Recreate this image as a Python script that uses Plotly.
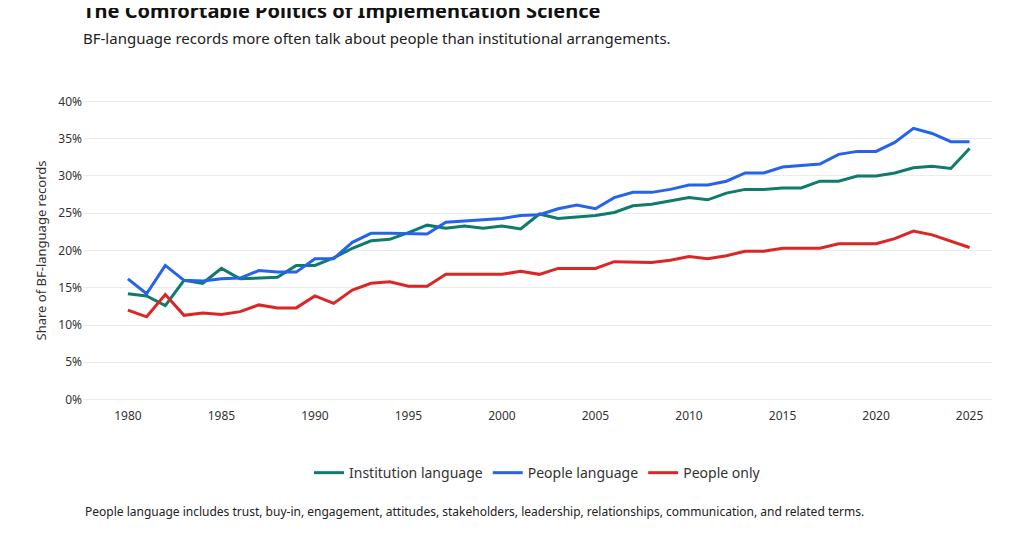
import plotly.graph_objects as go

years = list(range(1980, 2026))
institution = [14.2,13.9,12.6,16.0,15.6,17.6,16.2,16.3,16.4,18.0,18.0,19.0,20.3,21.3,21.5,22.4,23.4,23.0,23.3,23.0,
               23.3,22.9,24.9,24.3,24.5,24.7,25.1,26.0,26.2,26.6,27.1,26.8,27.7,28.2,28.2,28.4,28.4,29.3,29.3,30.0,
               30.0,30.4,31.1,31.3,31.0,33.7]
people = [16.2,14.2,18.0,16.0,15.9,16.2,16.3,17.3,17.1,17.1,18.9,18.9,21.1,22.3,22.3,22.2,22.2,23.8,24.0,24.1,
          24.3,24.7,24.8,25.6,26.1,25.6,27.1,27.8,27.8,28.2,28.8,28.8,29.3,30.4,30.4,31.2,31.4,31.6,32.9,33.3,
          33.3,34.5,36.4,35.7,34.6,34.6]
people_only = [12.0,11.1,14.1,11.3,11.6,11.4,11.8,12.7,12.3,12.3,13.9,12.9,14.7,15.6,15.8,15.2,15.2,16.8,16.8,16.8,
               16.8,17.2,16.8,17.6,17.6,17.6,18.5,18.5,18.4,18.7,19.2,18.9,19.3,19.9,19.9,20.3,20.3,20.3,20.9,20.9,
               20.9,21.6,22.6,22.1,21.2,20.4]

series = [("Institution language", institution, "#0f7b6c"),
          ("People language", people, "#2563eb"),
          ("People only", people_only, "#dc2626")]

fig = go.Figure()
for name, vals, col in series:
    fig.add_trace(go.Scatter(x=years, y=[v/100 for v in vals], mode="lines", name=name,
                             line=dict(color=col, width=3)))

font = "Noto Sans, Open Sans, sans-serif"
fig.update_layout(
    autosize=True,
    margin=dict(l=75, r=24, t=86, b=118),
    paper_bgcolor="white", plot_bgcolor="white",
    font=dict(family=font, size=12, color="#333"),
    title=dict(text="<b>The Comfortable Politics of Implementation Science</b>"
                    "<br><span style='font-size:15px;color:#222'>BF-language records more often talk about people than institutional arrangements.</span>",
               x=0, xref="paper", xanchor="left", y=1, yref="container", yanchor="top",
               pad=dict(t=10), font=dict(size=20, color="#111")),
    xaxis=dict(range=[1977.6, 2026.2], tickvals=list(range(1980, 2026, 5)), showgrid=False,
               zeroline=False, showline=False, ticks=""),
    yaxis=dict(range=[-0.01, 0.41], tickformat=".0%", dtick=0.05, gridcolor="#ebebeb",
               zeroline=False, title=dict(text="Share of BF-language records", standoff=8, font=dict(size=13))),
    legend=dict(orientation="h", x=0.5, xanchor="center", y=-0.16, yanchor="top", font=dict(size=14)),
    annotations=[dict(text="People language includes trust, buy-in, engagement, attitudes, stakeholders, leadership, relationships, communication, and related terms.",
                      xref="paper", yref="paper", x=0, xanchor="left", y=-0.3, yanchor="top",
                      showarrow=False, font=dict(size=12, color="#222"))],
)
fig.write_html("out.html")
